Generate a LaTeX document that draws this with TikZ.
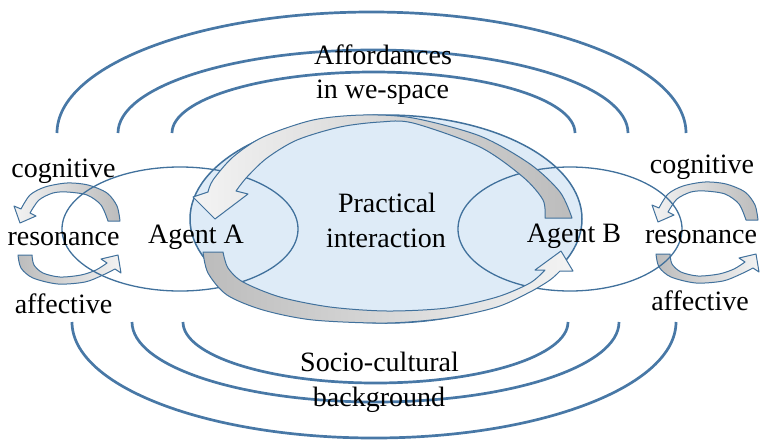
\documentclass[tikz,border=0pt]{standalone}
\usepackage{fontspec}
\setmainfont{Liberation Serif}
\usetikzlibrary{shapes.geometric}
\definecolor{lineblue}{RGB}{65,113,156}
\definecolor{ringblue}{RGB}{72,120,166}
\definecolor{fillblue}{RGB}{222,235,247}
\definecolor{arrgray}{RGB}{188,188,188}
\definecolor{arrmid}{RGB}{214,214,214}
\definecolor{arrlight}{RGB}{243,243,243}
\begin{document}
\begin{tikzpicture}[x=1pt,y=-1pt,
  ring/.style={draw=ringblue, line width=2.7pt},
  agentell/.style={ellipse, draw=lineblue, line width=1.3pt, inner sep=0pt},
  ctrell/.style={ellipse, draw=lineblue, fill=fillblue, line width=1.5pt, inner sep=0pt},
  blockarrow/.style={draw=lineblue, line width=1pt, line join=round},
  lbl/.style={font=\fontsize{28}{35}\selectfont, anchor=base, inner sep=0pt},
  resopair/.pic={
    \path[blockarrow, left color=arrlight, right color=arrgray]
      plot[smooth] coordinates {(57,-12) (54,-27) (44,-40) (25,-48) (4,-50) (-18,-46) (-33,-38) (-42,-24)}
      -- (-49,-27) -- (-43,-10) -- (-27,-17)
      -- plot[smooth] coordinates {(-33,-20) (-24,-33) (-10,-40) (4,-41) (24,-38) (38,-28) (45,-12)}
      -- cycle;
    \path[blockarrow, left color=arrgray, right color=arrlight]
      plot[smooth] coordinates {(-45,22) (-42,35) (-30,45) (-5,51) (22,49) (40,42) (52,36)}
      -- (58,40) -- (55,22) -- (38,26)
      -- plot[smooth] coordinates {(44,30) (33,37) (18,42) (-3,44) (-20,40) (-29,32) (-31,22)}
      -- cycle;
  }]
\useasboundingbox (0,0) rectangle (763,445);

% concentric rings, top
\draw[ring] (57,133) arc[start angle=180, end angle=360, x radius=314.5, y radius=121];
\draw[ring] (118,133) arc[start angle=180, end angle=360, x radius=255, y radius=83];
\draw[ring] (172,133) arc[start angle=180, end angle=360, x radius=201.5, y radius=61];
% concentric rings, bottom
\draw[ring] (72,322) arc[start angle=180, end angle=0, x radius=302, y radius=116];
\draw[ring] (132,322) arc[start angle=180, end angle=0, x radius=243.5, y radius=80];
\draw[ring] (183,322) arc[start angle=180, end angle=0, x radius=192.5, y radius=61];

% central ellipse
\node[ctrell, minimum width=392pt, minimum height=208pt] (ctr) at (386,219) {};

% resonance arrows
\pic (resL) at (63,233) {resopair};
\pic (resR) at (701,232) {resopair};

% agent ellipses
\node[agentell, minimum width=236pt, minimum height=124pt] (ellA) at (180,229) {};
\node[agentell, minimum width=224pt, minimum height=124pt] (ellB) at (570,229) {};

% big curved arrows
\path[blockarrow, left color=arrlight, middle color=arrmid, right color=arrgray]
  plot[smooth] coordinates {(572,218) (560,192) (530,164) (480,136) (413,118) (363,115) (313,120) (263,137) (233,157) (213,180) (208,192)}
  -- (193,197) -- (215,219) -- (248,194)
  -- plot[smooth] coordinates {(236,191) (247,177) (267,158) (297,140) (340,127) (380,122) (413,123) (480,147) (523,177) (543,200) (545,218)}
  -- cycle;
\path[blockarrow, left color=arrgray, middle color=arrmid, right color=arrlight]
  plot[smooth] coordinates {(203,252) (208,273) (227,295) (263,310) (313,320) (387,323) (447,318) (497,307) (530,292) (550,280) (560,271)}
  -- (573,271) -- (561,251) -- (535,270)
  -- plot[smooth] coordinates {(545,270) (530,283) (497,297) (447,308) (387,311) (330,307) (280,297) (243,282) (228,268) (223,252)}
  -- cycle;

% texts
\node[lbl] (aff1) at (383,64) {Affordances};
\node[lbl] (aff2) at (382.5,98) {in we-space};
\node[lbl] (soc1) at (379.5,371) {Socio-cultural};
\node[lbl] (soc2) at (379,406) {background};
\node[lbl] (prac1) at (387,212) {Practical};
\node[lbl] (prac2) at (386,247) {interaction};
\node[lbl] (agA) at (196,243) {Agent A};
\node[lbl] (agB) at (574,242) {Agent B};
\node[lbl] (cogL) at (63.5,177) {cognitive};
\node[lbl] (resoL) at (63.5,245) {resonance};
\node[lbl] (affL) at (63.5,313) {affective};
\node[lbl] (cogR) at (702,173) {cognitive};
\node[lbl] (resoR) at (701,243) {resonance};
\node[lbl] (affR) at (700,310) {affective};
\end{tikzpicture}
\end{document}
